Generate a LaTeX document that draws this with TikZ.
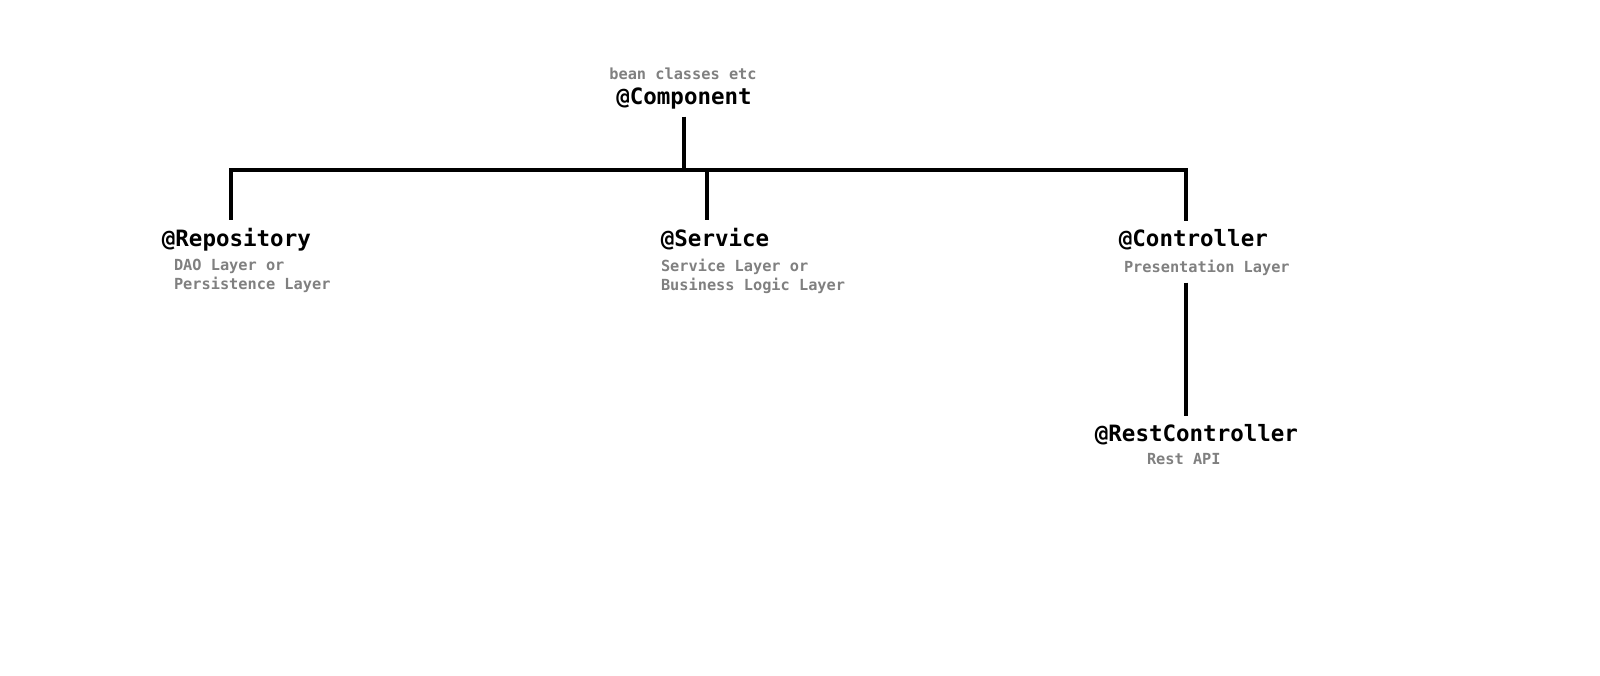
\documentclass[tikz,border=0pt]{standalone}
\usepackage{fontspec}
\setmonofont{DejaVu Sans Mono}
\usepackage{tikz}
\usetikzlibrary{positioning}
\definecolor{notegray}{RGB}{128, 128, 128}

\begin{document}
\begin{tikzpicture}[
  x=0.02cm, y=-0.02cm,
  title/.style={anchor=base, inner sep=0pt, outer sep=4.5pt,
    font=\fontsize{12.8}{14}\selectfont\ttfamily\bfseries},
  note/.style={anchor=north west, inner sep=0pt, outer sep=4pt, align=left,
    text=notegray, font=\fontsize{8.7}{11}\selectfont\ttfamily\bfseries},
  link/.style={line width=2.2pt}
]
\useasboundingbox (0,0) rectangle (1600,676);

% Root
\node[note, anchor=base] (compnote) at (683,79) {bean classes etc};
\node[title] (comp) at (684,104) {@Component};

% Layers
\node[title, anchor=base west] (repo) at (154,246) {@Repository};
\node[note] (repodesc) at (167,252) {DAO Layer or\\Persistence Layer};
\node[title, anchor=base west] (serv) at (653,246) {@Service};
\node[note] (servdesc) at (654,252) {Service Layer or\\Business Logic Layer};
\node[title, anchor=base west] (ctrl) at (1111,246) {@Controller};
\node[note] (ctrldesc) at (1117,253) {Presentation Layer};

% Rest
\node[title, anchor=base west] (rest) at (1087,441) {@RestController};
\node[note] (restdesc) at (1140,446) {Rest API};

% Bus
\coordinate (busL) at (231,170);
\coordinate (busS) at (707,170);
\coordinate (busR) at (1186,170);

% Connectors
\draw[link] (comp.south) -- (comp.south |- busL);
\draw[link] (repo.north -| busL) -- (busL) -- (busR) -- (busR |- ctrl.north);
\draw[link] (busS) -- (busS |- serv.north);
\draw[link] (ctrldesc.south -| busR) -- (busR |- rest.north);

\end{tikzpicture}
\end{document}
